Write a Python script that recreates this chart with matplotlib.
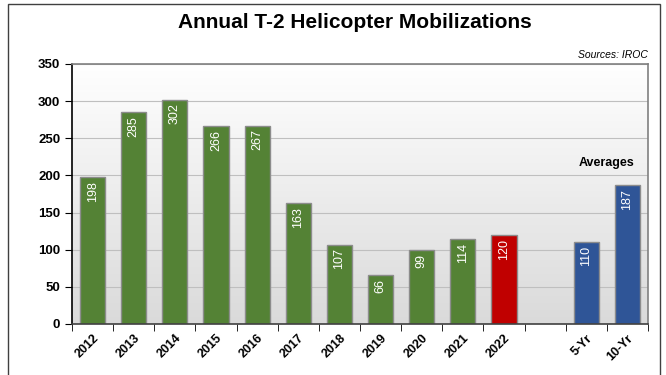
import matplotlib
matplotlib.use('Agg')
import matplotlib.pyplot as plt
import numpy as np
from matplotlib.patches import Rectangle

plt.rcParams['font.family'] = ['Liberation Sans', 'DejaVu Sans']

# Movilizaciones anuales y promedios
anios = ['2012', '2013', '2014', '2015', '2016', '2017', '2018', '2019',
         '2020', '2021', '2022']
valores = [198, 285, 302, 266, 267, 163, 107, 66, 99, 114, 120]
promedios_etiquetas = ['5-Yr', '10-Yr']
promedios = [110, 187]

verde = '#548235'
rojo = '#C00000'
azul = '#2F5597'

etiquetas = anios + [''] + promedios_etiquetas
pos = np.arange(len(etiquetas))
alturas = valores + [0] + promedios
colores = [verde] * (len(anios) - 1) + [rojo] + ['none'] + [azul] * len(promedios)

fig = plt.figure(figsize=(6.66, 3.75), dpi=100)
# marco exterior
fig.patches.append(Rectangle((8 / 666, -0.1), 652 / 666, 1.1 - 4 / 375,
                             transform=fig.transFigure, fill=False,
                             edgecolor='#404040', linewidth=1.0))

ax = fig.add_axes([72 / 666, 1 - 324 / 375, (648 - 72) / 666, (324 - 64) / 375])

# fondo con degradado
grad = np.linspace(0, 1, 256).reshape(-1, 1)
cmap = matplotlib.colors.LinearSegmentedColormap.from_list('fondo', ['#ffffff', '#dadada'])
ax.imshow(grad, aspect='auto', cmap=cmap, extent=[0, 1, 0, 1],
          transform=ax.transAxes, zorder=0)

ax.set_xlim(-0.5, len(etiquetas) - 0.5)
ax.set_ylim(0, 350)
ax.set_yticks(np.arange(0, 351, 50))
ax.yaxis.grid(True, color='#bfbfbf', linewidth=0.8, zorder=1)
ax.set_axisbelow(True)

for i in range(len(etiquetas)):
    if alturas[i] == 0:
        continue
    ax.bar(pos[i], alturas[i], width=0.61, color=colores[i],
           edgecolor='#8c8c8c', linewidth=1.0, zorder=3)
    ax.text(pos[i], alturas[i] - 5, str(alturas[i]), rotation=90,
            ha='center', va='top', color='white', fontsize=9, zorder=4)

ax.set_xticks(pos)
ax.set_xticklabels(etiquetas, rotation=45, ha='right', rotation_mode='anchor',
                   fontsize=9, fontweight='bold')
ax.tick_params(axis='x', which='major', length=0, pad=6)
ax.set_xticks(np.arange(-0.5, len(etiquetas), 1.0), minor=True)
ax.tick_params(axis='x', which='minor', length=5, color='black')
ax.tick_params(axis='y', labelsize=9.5, length=5, color='black')
for lbl in ax.get_yticklabels():
    lbl.set_fontweight('bold')

ax.spines['left'].set_color('black')
ax.spines['bottom'].set_color('#404040')
ax.spines['top'].set_color('#808080')
ax.spines['right'].set_color('#808080')
for s in ax.spines.values():
    s.set_linewidth(1.2)
    s.set_zorder(5)

fig.text(355 / 666, 1 - 22 / 375, 'Annual T-2 Helicopter Mobilizations',
         ha='center', va='center', fontsize=15, fontweight='bold')
fig.text(648 / 666, 1 - 55 / 375, 'Sources: IROC', ha='right', va='center',
         fontsize=7.5, style='italic')
ax.text(12.5, 217, 'Averages', ha='center', va='center',
        fontsize=9, fontweight='bold')

fig.savefig('out.png', dpi=100)
